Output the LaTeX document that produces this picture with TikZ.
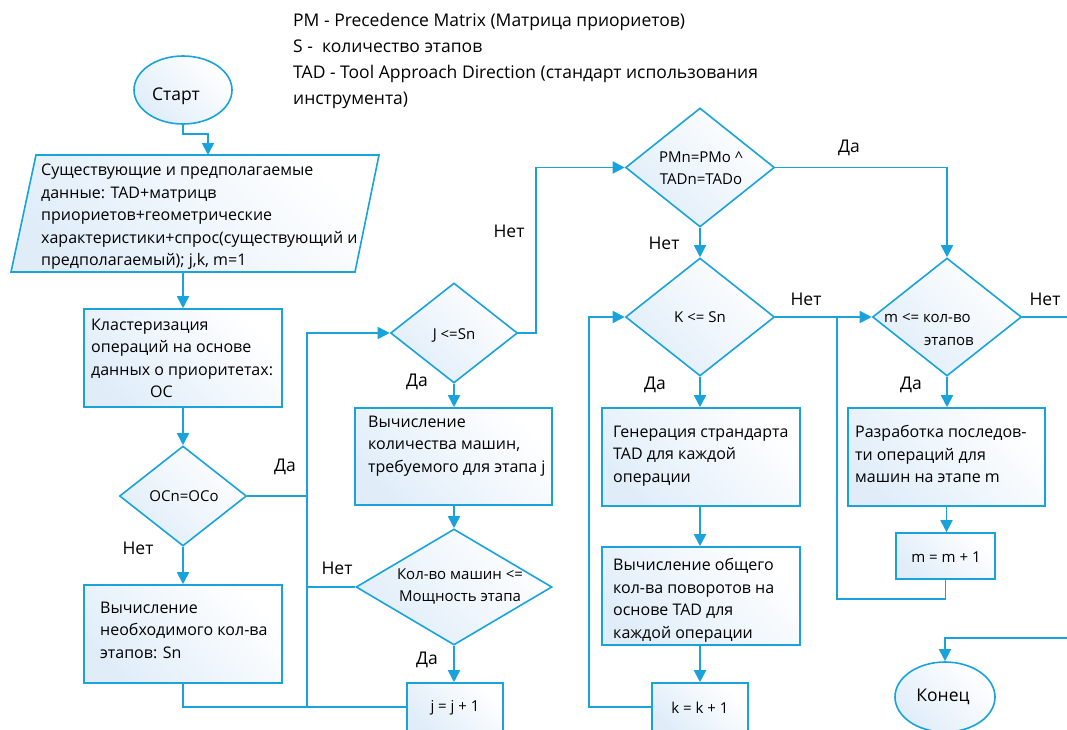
\documentclass[tikz,border=0pt]{standalone}
\usepackage{fontspec}
\setmainfont{Open Sans}
\usetikzlibrary{shapes.geometric,arrows.meta}
\definecolor{lb}{RGB}{25,163,218}
\definecolor{fb}{RGB}{224,237,249}
\begin{document}
\begin{tikzpicture}[x=1pt,y=-1pt,
  ln/.style={draw=lb, line width=1.8pt},
  arr/.style={ln, -{Triangle[length=12pt,width=12pt]}},
  shp/.style={draw=lb, line width=1.6pt, top color=white, bottom color=fb, shading angle=-45, inner sep=0pt},
  rbox/.style={shp, rectangle},
  dia/.style={shp, diamond},
  ell/.style={shp, ellipse},
  btxt/.style={anchor=west, align=left, inner sep=0pt, font=\fontsize{16}{22.5}\selectfont},
  dtxt/.style={align=center, inner sep=0pt, font=\fontsize{15}{22}\selectfont},
  lab/.style={inner sep=0pt, font=\fontsize{17.5}{20}\selectfont}]
\useasboundingbox (0,0) rectangle (1067,729);
\clip (0,0) rectangle (1067,729);

% legend
\node[anchor=west, align=left, inner sep=0pt, font=\fontsize{17.5}{26}\selectfont] (leg) at (293,61)
 {PM - Precedence Matrix (Матрица приориетов)\\S - \ количество этапов\\TAD - Tool Approach Direction (стандарт использования\\инструмента)};

% shapes
\node[ell, minimum width=98pt, minimum height=68pt] (start) at (183,90) {};
\path[shp] (36,155) -- (379,155) -- (355,272) -- (11,272) -- cycle;
\coordinate (inTop) at (208,155);
\coordinate (inBot) at (183,272);
\node[rbox, minimum width=198pt, minimum height=98pt] (clus) at (183,358) {};
\node[dia, minimum width=127pt, minimum height=100pt] (ocd) at (183,496) {};
\node[rbox, minimum width=198pt, minimum height=98pt] (nec) at (183,634) {};
\node[dia, minimum width=127pt, minimum height=100pt] (jd) at (454,333) {};
\node[rbox, minimum width=197pt, minimum height=97pt] (calc) at (453.5,456.5) {};
\node[dia, minimum width=196pt, minimum height=116pt] (kmd) at (454,587) {};
\node[rbox, minimum width=96pt, minimum height=48pt] (jinc) at (455,707) {};
\node[dia, minimum width=149pt, minimum height=119pt] (pmd) at (700,167.5) {};
\node[dia, minimum width=149pt, minimum height=118pt] (kd) at (700,317) {};
\node[rbox, minimum width=198pt, minimum height=98pt] (gen) at (701,457) {};
\node[rbox, minimum width=198pt, minimum height=98pt] (tot) at (701,596) {};
\node[rbox, minimum width=96pt, minimum height=48pt] (kinc) at (700,707) {};
\node[dia, minimum width=149pt, minimum height=118pt] (md) at (947,317) {};
\node[rbox, minimum width=197pt, minimum height=98pt] (dev) at (946.5,457) {};
\node[rbox, minimum width=99pt, minimum height=46pt] (minc) at (945.5,556) {};
\node[ell, minimum width=100pt, minimum height=70pt] (fin) at (945,697) {};

% texts
\node[lab] (startT) at (176,96) {Старт};
\node[lab] (finT) at (943,697) {Конец};
\node[btxt] (inpT) at (41,217) {Существующие и предполагаемые\\данные: TAD+матрицв\\приориетов+геометрические\\характеристики+спрос(существующий и\\предполагаемый); j,k, m=1};
\node[btxt] (clusT) at (91,358.5) {Кластеризация\\операций на основе\\данных о приоритетах:\\\hspace*{59pt}OC};
\node[btxt] (necT) at (100,630) {Вычисление\\необходимого кол-ва\\этапов: Sn};
\node[btxt] (calcT) at (368,446) {Вычисление\\количества машин,\\требуемого для этапа j};
\node[btxt] (genT) at (613,456) {Генерация страндарта\\TAD для каждой\\операции};
\node[btxt] (totT) at (613,600.5) {Вычисление общего\\кол-ва поворотов на\\основе TAD для\\каждой операции};
\node[btxt] (devT) at (855,454) {Разработка последов-\\ти операций для\\машин на этапе m};
\node[dtxt] (ocdT) at (184,496) {OCn=OCo};
\node[dtxt] (jdT) at (454,335) {J <=Sn};
\node[dtxt] (kmdT) at (460,587) {Кол-во машин <=\\Мощность этапа};
\node[dtxt] (pmdT) at (701,168) {PMn=PMo \textasciicircum\\TADn=TADo};
\node[dtxt] (kdT) at (700,317) {K <= Sn};
\node[dtxt, anchor=west] (mdT1) at (884,318) {m <= кол-во};
\node[dtxt, anchor=west] (mdT2) at (924,341) {этапов};
\node[dtxt] (jincT) at (455,708) {j = j + 1};
\node[dtxt] (kincT) at (700,708) {k = k + 1};
\node[dtxt] (mincT) at (946,557) {m = m + 1};

% labels
\node[lab] (l1) at (285,467) {Да};
\node[lab] (l2) at (138,548) {Нет};
\node[lab] (l3) at (509,231) {Нет};
\node[lab] (l4) at (417,382) {Да};
\node[lab] (l5) at (337,568) {Нет};
\node[lab] (l6) at (427,660) {Да};
\node[lab] (l7) at (849,148) {Да};
\node[lab] (l8) at (664,243) {Нет};
\node[lab] (l9) at (806,299) {Нет};
\node[lab] (l10) at (655,385) {Да};
\node[lab] (l11) at (1045,299) {Нет};
\node[lab] (l12) at (911,385) {Да};

% connectors
\draw[arr] (start.south) -- ++(0,9) -| (inTop);
\draw[arr] (inBot) -- (clus.north);
\draw[arr] (clus.south) -- (ocd.north);
\draw[arr] (ocd.south) -- (nec.north);
\coordinate (jx) at (307,707);
\draw[ln] (nec.south) |- (jinc.west);
\draw[arr] (jx) |- (jd.west);
\draw[ln] (ocd.east) -- (ocd.east -| jx);
\draw[ln] (kmd.west) -- (kmd.west -| jx);
\draw[arr] (jd.south) -- (jd.south |- calc.north);
\draw[arr] (kmd.north |- calc.south) -- (kmd.north);
\draw[arr] (kmd.south) -- (kmd.south |- jinc.north);
\draw[arr] (jd.east) -- ++(18,0) |- (pmd.west);
\draw[arr] (pmd.east) -| (md.north);
\draw[arr] (pmd.south) -- (kd.north);
\draw[arr] (kd.south) -- (kd.south |- gen.north);
\draw[arr] (kd.south |- gen.south) -- (kd.south |- tot.north);
\draw[arr] (kd.south |- tot.south) -- (kd.south |- kinc.north);
\coordinate (kx) at (589,707);
\draw[arr] (kinc.west) -- (kx) |- (kd.west);
\draw[arr] (kd.east) -- (md.west);
\coordinate (mx) at (837,599);
\draw[ln] (minc.south) |- (mx) -- (mx |- kd.east);
\draw[arr] (md.south) -- (md.south |- dev.north);
\draw[arr] (dev.south) -- (dev.south |- minc.north);
\coordinate (mout) at (1067,317);
\draw[ln] (md.east) -- (mout);
\coordinate (ein) at (1067,638);
\draw[arr] (ein) -| (fin.north);
\end{tikzpicture}
\end{document}
